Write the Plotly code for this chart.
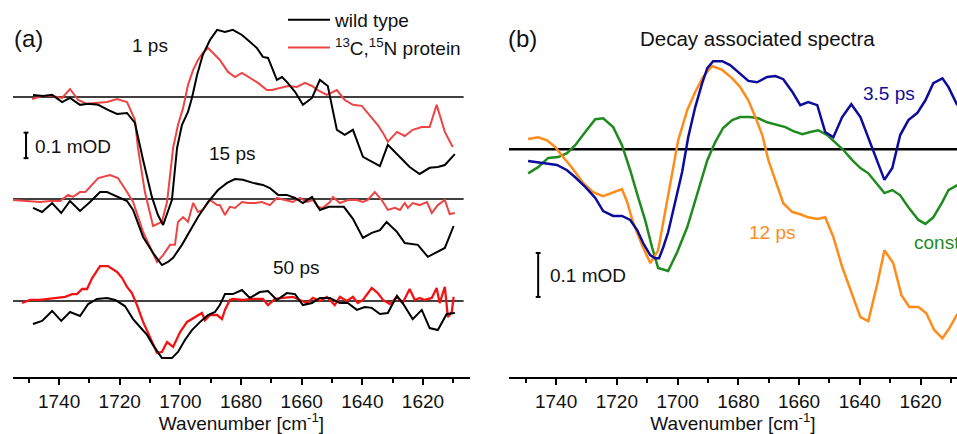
import plotly.graph_objects as go

# ── Panel (a): transient spectra, wild type vs 13C,15N protein ─────────────────
WN_1PS_WT = [1748.6, 1745.3, 1742.3, 1739.0, 1736.4, 1733.1, 1730.4, 1727.1, 1723.9, 1720.9,
             1717.6, 1715.0, 1712.3, 1709.4, 1707.4, 1705.7, 1702.8, 1701.1, 1699.5, 1697.5,
             1696.2, 1694.5, 1692.6, 1690.2, 1687.9, 1685.3, 1682.7, 1679.7, 1677.1, 1674.8,
             1672.8, 1671.1, 1669.5, 1668.2, 1666.5, 1664.9, 1662.2, 1659.6, 1656.6, 1654.0,
             1651.4, 1648.4, 1645.8, 1643.1, 1639.8, 1636.9, 1634.2, 1631.6, 1628.3, 1624.4,
             1621.1, 1617.8, 1615.1, 1612.8, 1609.5]
OD_1PS_WT = [0.008, 0.004, 0.008, -0.020, -0.004, -0.031, -0.027, -0.031, -0.051, -0.067,
             -0.063, -0.102, -0.247, -0.392, -0.463, -0.502, -0.404, -0.200, -0.110, -0.059,
             -0.004, 0.086, 0.165, 0.224, 0.263, 0.255, 0.263, 0.243, 0.216, 0.192,
             0.157, 0.153, 0.106, 0.067, 0.078, 0.059, 0.020, -0.031, -0.004, 0.067,
             0.043, -0.129, -0.149, -0.129, -0.235, -0.255, -0.271, -0.188, -0.227, -0.275,
             -0.302, -0.278, -0.275, -0.267, -0.224]

WN_1PS_ISO = [1748.9, 1745.3, 1742.3, 1739.0, 1736.4, 1733.7, 1730.8, 1727.5, 1724.2, 1720.9,
              1717.6, 1715.0, 1714.0, 1711.7, 1709.0, 1706.1, 1704.4, 1702.4, 1700.8, 1699.1,
              1697.5, 1695.8, 1694.2, 1692.6, 1690.9, 1689.3, 1687.0, 1684.3, 1682.0, 1679.7,
              1677.1, 1674.4, 1671.5, 1669.8, 1667.2, 1664.5, 1661.6, 1658.9, 1656.6, 1654.7,
              1651.7, 1648.4, 1645.8, 1643.1, 1640.2, 1637.5, 1634.9, 1633.2, 1631.6, 1628.6,
              1626.0, 1623.4, 1620.4, 1617.8, 1615.5, 1612.8, 1610.2]
OD_1PS_ISO = [-0.008, 0.004, 0.004, -0.004, 0.031, -0.012, -0.027, -0.024, -0.020, -0.008,
              -0.020, -0.090, -0.200, -0.373, -0.506, -0.490, -0.412, -0.200, -0.110, -0.043,
              0.047, 0.106, 0.145, 0.173, 0.192, 0.173, 0.145, 0.098, 0.078, 0.094,
              0.075, 0.055, 0.027, 0.027, 0.035, 0.043, 0.039, 0.055, 0.043, 0.027,
              0.008, 0.027, -0.012, -0.031, -0.035, -0.071, -0.110, -0.141, -0.176, -0.137,
              -0.153, -0.129, -0.118, -0.118, -0.031, -0.137, -0.196]

WN_15PS_WT = [1748.6, 1745.6, 1742.3, 1739.3, 1736.4, 1733.1, 1729.8, 1726.5, 1724.2, 1720.9,
              1717.6, 1715.6, 1712.3, 1709.0, 1706.1, 1704.1, 1702.4, 1699.5, 1696.8, 1694.2,
              1690.9, 1687.6, 1684.6, 1682.0, 1679.4, 1676.1, 1672.8, 1670.5, 1667.8, 1664.9,
              1662.2, 1659.6, 1656.6, 1654.0, 1651.0, 1646.1, 1643.1, 1639.8, 1636.9, 1634.2,
              1632.0, 1628.6, 1626.0, 1621.7, 1618.4, 1615.5, 1612.8, 1609.9]
OD_15PS_WT = [-0.035, -0.051, -0.016, -0.055, -0.008, -0.047, -0.012, 0.027, 0.027, 0.008,
              -0.008, -0.043, -0.149, -0.212, -0.259, -0.247, -0.231, -0.180, -0.122, -0.071,
              -0.012, 0.035, 0.063, 0.078, 0.075, 0.063, 0.055, 0.043, 0.016, 0.016,
              0.004, -0.016, 0.008, -0.043, -0.031, -0.031, -0.078, -0.153, -0.133, -0.122,
              -0.090, -0.129, -0.173, -0.180, -0.227, -0.208, -0.192, -0.106]

WN_15PS_ISO = [1755.2, 1748.9, 1746.3, 1743.0, 1739.7, 1737.0, 1735.4, 1733.1, 1731.4, 1729.8,
               1727.1, 1723.2, 1720.6, 1717.6, 1715.6, 1712.3, 1707.7, 1705.7, 1703.4, 1701.8,
               1700.8, 1699.1, 1697.5, 1695.8, 1694.2, 1692.6, 1690.2, 1687.9, 1687.0, 1685.3,
               1683.7, 1682.0, 1679.7, 1677.7, 1675.4, 1673.1, 1670.5, 1668.2, 1665.5, 1662.9,
               1660.6, 1658.3, 1656.3, 1654.7, 1653.0, 1650.7, 1649.7, 1647.4, 1644.8, 1641.8,
               1639.8, 1638.2, 1635.9, 1633.6, 1631.6, 1629.3, 1627.6, 1626.0, 1625.0, 1623.4,
               1621.1, 1618.7, 1617.1, 1615.1, 1612.8, 1611.2, 1609.5]
OD_15PS_ISO = [-0.004, -0.008, -0.012, -0.008, -0.008, 0.016, 0.008, 0.027, 0.027, 0.047,
               0.082, 0.094, 0.082, 0.027, -0.012, -0.129, -0.247, -0.220, -0.180, -0.180,
               -0.090, -0.071, -0.090, -0.016, -0.051, -0.043, -0.004, -0.024, -0.024, -0.063,
               -0.031, -0.035, -0.012, -0.016, -0.016, -0.012, -0.024, 0.004, -0.004, -0.012,
               0.004, -0.012, -0.004, -0.031, -0.035, -0.012, 0.008, -0.016, -0.004, -0.004,
               -0.012, -0.004, 0.027, -0.004, -0.043, -0.035, -0.043, -0.016, -0.035, -0.016,
               -0.024, -0.012, -0.055, -0.024, -0.004, -0.059, -0.055]

WN_50PS_WT = [1748.6, 1745.6, 1742.3, 1739.3, 1736.4, 1733.1, 1730.4, 1727.5, 1724.2, 1721.5,
              1718.3, 1715.6, 1713.3, 1711.0, 1709.0, 1706.1, 1702.8, 1700.8, 1698.5, 1696.2,
              1693.5, 1690.9, 1688.6, 1687.0, 1685.3, 1682.7, 1679.7, 1677.1, 1673.8, 1671.1,
              1668.2, 1664.9, 1662.2, 1659.6, 1656.6, 1654.0, 1650.7, 1647.4, 1644.8, 1641.8,
              1639.2, 1636.9, 1634.2, 1631.6, 1628.6, 1626.7, 1623.4, 1620.4, 1617.8, 1615.1,
              1612.2, 1609.5]
OD_50PS_WT = [-0.090, -0.078, -0.039, -0.078, -0.043, -0.059, -0.012, 0.008, 0.012, 0.004,
              -0.020, -0.071, -0.102, -0.133, -0.173, -0.224, -0.224, -0.200, -0.153, -0.114,
              -0.082, -0.055, -0.043, -0.016, 0.027, 0.027, 0.043, 0.012, 0.035, 0.039,
              0.004, 0.031, 0.027, -0.016, -0.008, 0.012, 0.012, -0.008, -0.008, -0.035,
              -0.024, -0.027, -0.051, -0.047, 0.020, -0.008, -0.071, -0.035, -0.106, -0.114,
              -0.051, -0.047]

WN_50PS_ISO = [1752.2, 1749.6, 1746.3, 1744.0, 1740.7, 1738.0, 1735.7, 1734.1, 1732.4, 1730.8,
               1729.1, 1726.5, 1723.9, 1720.9, 1719.2, 1717.6, 1716.0, 1714.3, 1712.3, 1710.0,
               1707.7, 1706.1, 1704.4, 1702.4, 1700.1, 1697.8, 1695.8, 1692.9, 1691.9, 1690.2,
               1687.9, 1686.3, 1685.3, 1683.7, 1682.7, 1679.4, 1676.1, 1672.8, 1671.1, 1668.8,
               1666.2, 1662.9, 1660.6, 1658.3, 1656.3, 1654.0, 1651.7, 1649.1, 1647.4, 1645.1,
               1643.1, 1641.5, 1639.8, 1636.9, 1634.9, 1633.2, 1630.9, 1628.6, 1626.7, 1624.4,
               1622.7, 1621.1, 1619.4, 1617.1, 1615.5, 1614.5, 1612.8, 1611.8, 1610.5, 1609.9]
OD_50PS_ISO = [-0.008, 0.004, 0.004, 0.008, 0.012, 0.016, 0.027, 0.027, 0.047, 0.047,
               0.090, 0.137, 0.137, 0.114, 0.090, 0.055, 0.031, -0.016, -0.082, -0.141,
               -0.204, -0.200, -0.161, -0.180, -0.122, -0.082, -0.067, -0.047, -0.075, -0.055,
               -0.055, -0.071, -0.035, 0.004, 0.008, 0.004, 0.008, 0.008, -0.016, 0.008,
               0.012, 0.016, 0.004, -0.008, 0.012, 0.000, 0.016, -0.016, 0.016, 0.000,
               0.016, -0.008, 0.004, 0.051, 0.031, 0.004, -0.012, 0.016, -0.008, 0.047,
               0.004, 0.012, 0.004, 0.012, 0.051, -0.008, 0.055, -0.063, -0.043, 0.016]

# vertical offsets of the stacked delays (mOD)
DELAYS = ["1 ps", "15 ps", "50 ps"]
OFFSETS = [0.8, 0.4, 0.0]

# ── Panel (b): decay associated spectra ───────────────────────────────────────
WN_DAS_3P5 = [1749.2, 1745.9, 1742.6, 1739.7, 1736.4, 1733.7, 1730.4, 1727.1, 1724.5, 1721.2,
              1718.3, 1715.6, 1713.3, 1711.3, 1709.0, 1707.4, 1706.1, 1704.7, 1703.1, 1700.8,
              1698.5, 1696.5, 1694.2, 1691.9, 1690.2, 1688.3, 1685.3, 1682.7, 1680.0, 1676.7,
              1673.8, 1670.5, 1667.8, 1665.2, 1662.2, 1659.6, 1657.0, 1654.0, 1651.4, 1648.7,
              1645.8, 1642.8, 1639.8, 1637.2, 1634.2, 1631.9, 1629.3, 1626.7, 1624.0, 1621.1,
              1618.4, 1615.8, 1612.8, 1610.8, 1607.9]
OD_DAS_3P5 = [-0.027, -0.030, -0.032, -0.036, -0.048, -0.064, -0.086, -0.111, -0.141, -0.152,
              -0.152, -0.161, -0.184, -0.214, -0.241, -0.248, -0.248, -0.223, -0.189, -0.123,
              -0.052, 0.027, 0.095, 0.150, 0.184, 0.200, 0.200, 0.191, 0.175, 0.155,
              0.152, 0.164, 0.166, 0.159, 0.130, 0.100, 0.107, 0.100, 0.039, 0.027,
              0.073, 0.102, 0.073, 0.027, -0.030, -0.070, -0.043, 0.032, 0.066, 0.082,
              0.111, 0.150, 0.161, 0.141, 0.100]

WN_DAS_12 = [1749.2, 1745.9, 1743.0, 1740.3, 1737.7, 1734.7, 1731.1, 1727.8, 1724.5, 1721.2,
             1718.3, 1716.6, 1714.6, 1711.7, 1709.0, 1706.4, 1704.1, 1701.8, 1699.8, 1696.8,
             1694.2, 1691.6, 1688.6, 1685.3, 1682.0, 1679.4, 1676.7, 1674.4, 1672.1, 1670.1,
             1667.8, 1665.2, 1662.2, 1659.6, 1657.0, 1654.0, 1651.4, 1648.7, 1645.8, 1642.8,
             1639.8, 1637.2, 1634.2, 1631.9, 1629.0, 1626.3, 1623.7, 1620.7, 1618.1, 1615.5,
             1612.8, 1610.5, 1607.9]
OD_DAS_12 = [0.023, 0.027, 0.020, 0.005, -0.018, -0.043, -0.077, -0.098, -0.107, -0.098,
             -0.091, -0.120, -0.168, -0.218, -0.259, -0.230, -0.145, -0.055, 0.020, 0.089,
             0.130, 0.164, 0.189, 0.180, 0.161, 0.141, 0.111, 0.073, 0.032, -0.025,
             -0.070, -0.123, -0.143, -0.148, -0.155, -0.159, -0.155, -0.200, -0.268, -0.327,
             -0.382, -0.391, -0.305, -0.230, -0.259, -0.332, -0.359, -0.359, -0.373, -0.411,
             -0.430, -0.407, -0.375]

WN_DAS_CONST = [1749.2, 1745.9, 1742.6, 1739.3, 1736.4, 1733.7, 1730.4, 1727.1, 1724.5, 1721.2,
                1718.3, 1715.6, 1713.0, 1710.7, 1708.4, 1706.4, 1703.1, 1700.1, 1696.8, 1693.5,
                1690.2, 1687.6, 1685.0, 1682.0, 1679.4, 1676.1, 1673.4, 1670.5, 1666.9, 1664.5,
                1661.9, 1658.9, 1656.3, 1653.7, 1650.7, 1648.1, 1645.4, 1642.5, 1639.8, 1637.2,
                1634.2, 1631.9, 1629.3, 1626.7, 1624.0, 1620.7, 1618.4, 1615.8, 1612.8, 1610.8,
                1607.9]
OD_DAS_CONST = [-0.055, -0.041, -0.020, -0.018, -0.009, 0.009, 0.039, 0.068, 0.070, 0.050,
                0.009, -0.048, -0.109, -0.161, -0.223, -0.270, -0.277, -0.234, -0.177, -0.098,
                -0.025, 0.016, 0.048, 0.066, 0.073, 0.073, 0.070, 0.061, 0.055, 0.050,
                0.041, 0.034, 0.039, 0.043, 0.032, 0.016, -0.002, -0.025, -0.043, -0.055,
                -0.082, -0.100, -0.093, -0.105, -0.132, -0.161, -0.170, -0.155, -0.120, -0.093,
                -0.082]

# ── Style ─────────────────────────────────────────────────────────────────────
FONT = "Liberation Sans, Arial, sans-serif"
INK = "#111111"
BLACK = "#000000"
RED_SOFT = "#EE4444"
RED = "#F21414"
BLUE = "#0C0C9C"
ORANGE = "#FF8C1A"
GREEN = "#1F8B1F"

W, H = 957, 434
PLOT_BOTTOM = 377  # pixel row of the x axes


def px(x):
    return x / W


def py(y):
    return (PLOT_BOTTOM - y) / PLOT_BOTTOM


fig = go.Figure()

series_a = [
    (WN_1PS_WT, OD_1PS_WT, WN_1PS_ISO, OD_1PS_ISO, RED_SOFT, 2.0),
    (WN_15PS_WT, OD_15PS_WT, WN_15PS_ISO, OD_15PS_ISO, RED_SOFT, 2.0),
    (WN_50PS_WT, OD_50PS_WT, WN_50PS_ISO, OD_50PS_ISO, RED, 2.3),
]
for i, (wn_wt, od_wt, wn_iso, od_iso, red, rw) in enumerate(series_a):
    off = OFFSETS[i]
    fig.add_trace(go.Scatter(
        x=wn_iso, y=[v + off for v in od_iso], mode="lines",
        line=dict(color=red, width=rw),
        name="<sup>13</sup>C,<sup>15</sup>N protein", showlegend=(i == 0), legendrank=2,
        xaxis="x", yaxis="y",
    ))
    fig.add_trace(go.Scatter(
        x=wn_wt, y=[v + off for v in od_wt], mode="lines",
        line=dict(color=BLACK, width=2.0),
        name="wild type", showlegend=(i == 0), legendrank=1,
        xaxis="x", yaxis="y",
    ))

for wn, od, col in [(WN_DAS_CONST, OD_DAS_CONST, GREEN),
                    (WN_DAS_12, OD_DAS_12, ORANGE),
                    (WN_DAS_3P5, OD_DAS_3P5, BLUE)]:
    fig.add_trace(go.Scatter(
        x=wn, y=od, mode="lines", line=dict(color=col, width=2.5),
        showlegend=False, xaxis="x2", yaxis="y2",
    ))

# zero lines
for off in OFFSETS:
    fig.add_shape(type="line", xref="x", yref="y", x0=1755.2, x1=1606.6, y0=off, y1=off,
                  line=dict(color=BLACK, width=1.5), layer="below")
fig.add_shape(type="line", xref="x2", yref="y2", x0=1755.5, x1=1600, y0=0, y1=0,
              line=dict(color=BLACK, width=2.5), layer="below")


def scale_bar(xref, yref, x, y0, y1, cap):
    fig.add_shape(type="line", xref=xref, yref=yref, x0=x, x1=x, y0=y0, y1=y1,
                  line=dict(color=BLACK, width=2))
    for yy in (y0, y1):
        fig.add_shape(type="line", xref=xref, yref=yref, x0=x - cap, x1=x + cap, y0=yy, y1=yy,
                      line=dict(color=BLACK, width=2))


scale_bar("x", "y", 1750.9, 0.56, 0.66, 0.8)
scale_bar("x2", "y2", 1745.9, -0.336, -0.236, 0.8)


def label(x, y, text, size=19, color=INK, xanchor="center"):
    fig.add_annotation(x=px(x), y=py(y), xref="paper", yref="paper", text=text,
                       showarrow=False, xanchor=xanchor, yanchor="middle",
                       font=dict(family=FONT, size=size, color=color))


label(12, 38, "(a)", size=24, xanchor="left")
label(150, 45, "1 ps")
label(232, 153, "15 ps")
label(296, 267, "50 ps")
label(33, 146, "0.1 mOD", xanchor="left")

label(506, 38, "(b)", size=24, xanchor="left")
label(757, 39, "Decay associated spectra", size=20.5)
label(889, 93, "3.5 ps", color=BLUE)
label(772, 232, "12 ps", color=ORANGE)
label(912, 242, "const.", color=GREEN, xanchor="left")
label(548, 275, "0.1 mOD", xanchor="left")

xaxis_common = dict(
    showline=True, linecolor=BLACK, linewidth=2, mirror=False,
    ticks="outside", ticklen=6, tickwidth=2, tickcolor=BLACK,
    tick0=1600, dtick=20, showgrid=False, zeroline=False,
    minor=dict(ticks="outside", ticklen=4, tickwidth=2, tickcolor=BLACK, dtick=10, tick0=1600,
               showgrid=False),
    tickfont=dict(family=FONT, size=19, color=INK),
    title=dict(text="Wavenumber [cm<sup>-1</sup>]", font=dict(family=FONT, size=19, color=INK),
               standoff=5),
    automargin=False,
)

fig.update_layout(
    width=W, height=H,
    paper_bgcolor="white", plot_bgcolor="white",
    margin=dict(l=0, r=0, t=0, b=H - PLOT_BOTTOM),
    font=dict(family=FONT, size=19, color=INK),
    xaxis=dict(domain=[px(13), px(470)], range=[1755.2, 1604.5], anchor="y", **xaxis_common),
    yaxis=dict(domain=[0, 1], range=[-0.298, 1.180], visible=False, fixedrange=True),
    xaxis2=dict(domain=[px(509), 1.0], range=[1755.5, 1608.0], anchor="y2", **xaxis_common),
    yaxis2=dict(domain=[0, 1], range=[-0.518, 0.339], visible=False, anchor="x2"),
    legend=dict(x=px(283), y=py(1), xanchor="left", yanchor="top",
                bgcolor="rgba(0,0,0,0)", borderwidth=0, itemwidth=42,
                font=dict(family=FONT, size=19, color=INK), tracegroupgap=0),
    showlegend=True,
)

fig.write_html("out.html", config={"displayModeBar": False},
               post_script="document.body.style.margin='0';")
